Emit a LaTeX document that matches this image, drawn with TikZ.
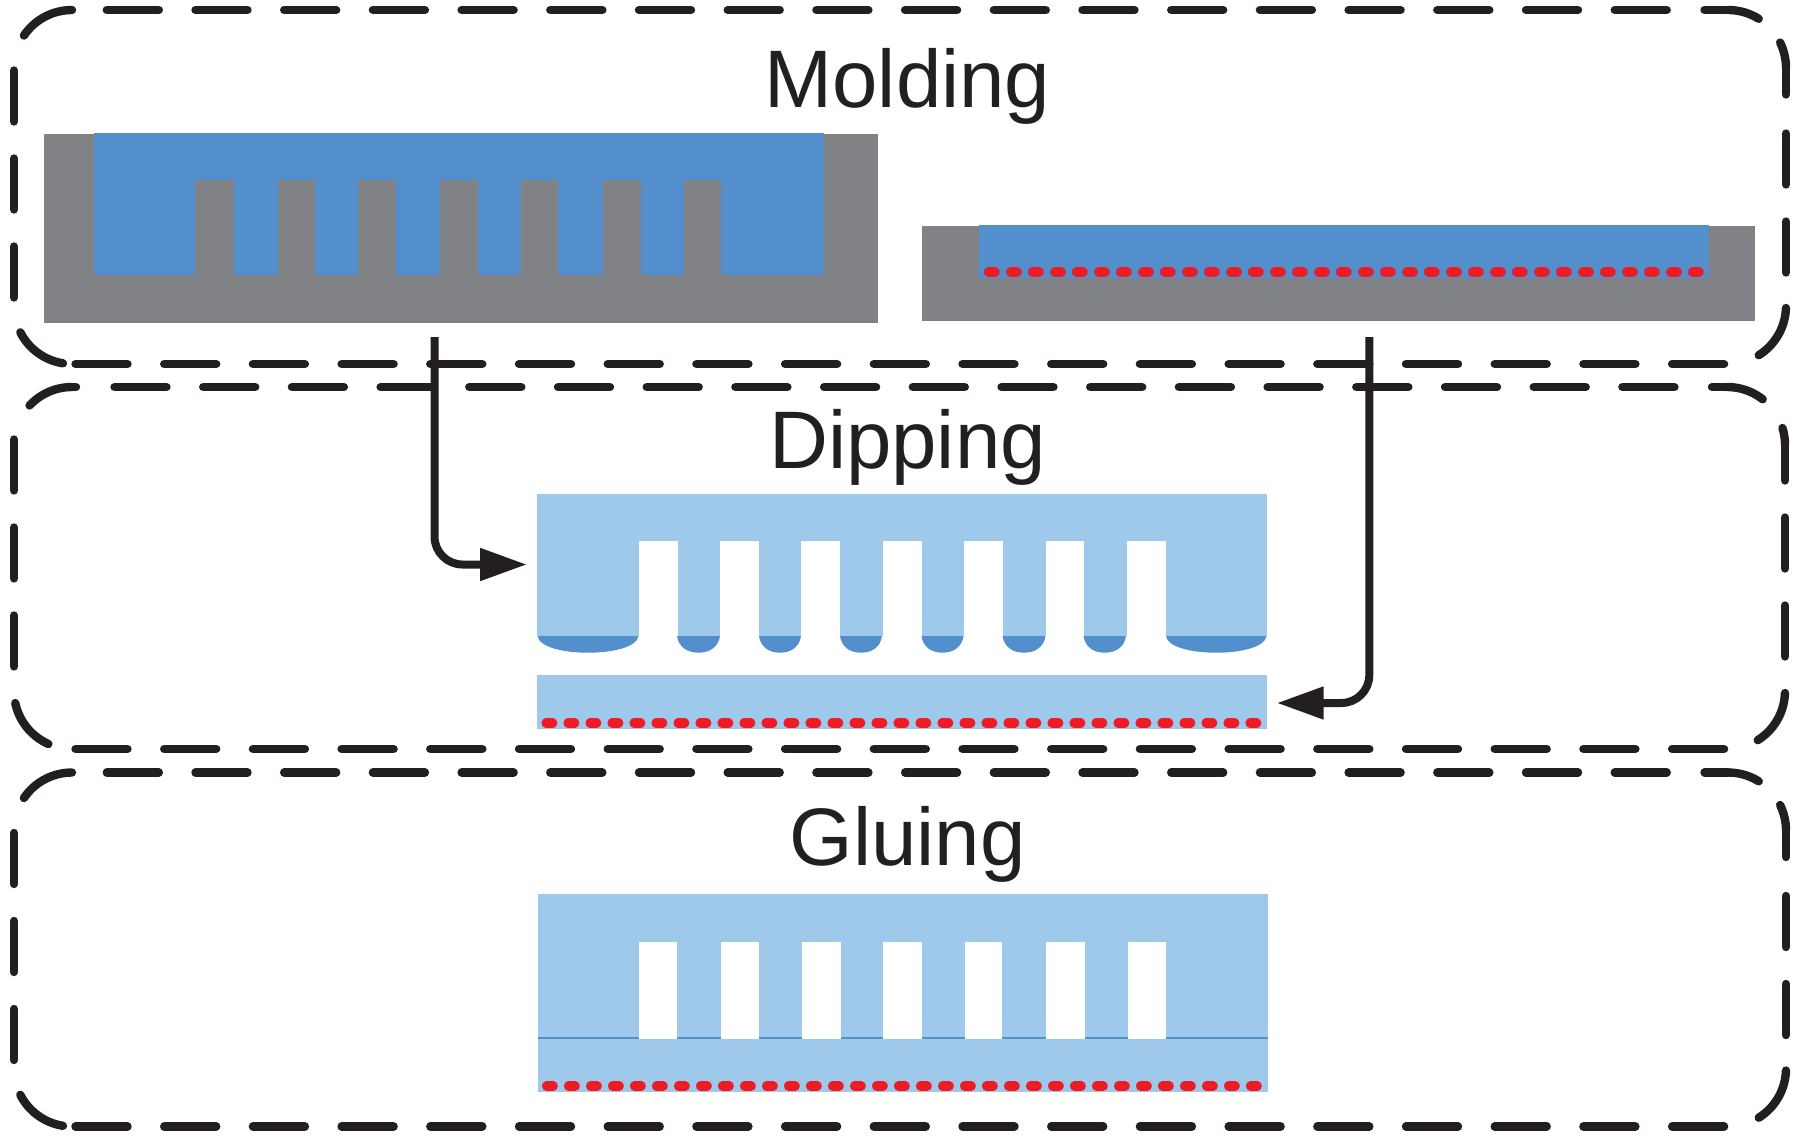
\documentclass[tikz,border=0pt]{standalone}
\usepackage{fontspec}
\setmainfont{Liberation Sans}
\usetikzlibrary{arrows.meta}
\definecolor{ink}{HTML}{231F20}
\definecolor{moldgray}{HTML}{808285}
\definecolor{pdms}{HTML}{538FCC}
\definecolor{cured}{HTML}{9FC9EB}
\definecolor{dotred}{HTML}{ED1C24}
\tikzset{
  frame/.style={draw=ink,line width=4.2pt,line cap=round},
  framedashH/.style={frame,dash pattern=on 26pt off 18.35pt},
  framedashV/.style={frame,dash pattern=on 25.5pt off 18.5pt},
  reddots/.style={draw=dotred,line width=4.6pt,line cap=round,dash pattern=on 3.4pt off 7.6pt},
  flow/.style={draw=ink,line width=4pt,rounded corners=14pt,-{Triangle[length=23.5pt,width=15.5pt,color=ink]}},
  title/.style={text=ink,font=\fontsize{40.8pt}{48pt}\selectfont,anchor=base,inner sep=0pt},
  adhesive/.style={draw=pdms,line width=1.2pt},
}
\newcommand{\crn}[4]{\draw[frame] plot[domain=#3:#4,samples=18] ({#1+58*cos(\x)},{#2-58*sin(\x)});}
\newcommand{\wideframe}{%
  \crn{72}{68}{146}{90}
  \draw[framedashH] (106.8,10) -- (1667.5,10);
  \draw[frame] (1704.5,10) -- (1728,10);
  \crn{1728}{68}{90}{58}
  \crn{1728}{68}{26}{0}
  \draw[frame] (1786,68) -- (1786,94.5);
  \draw[framedashV] (1786,133.5) -- (1786,272.5);
  \crn{1728}{306}{-2}{-58}
  \draw[framedashH] (75.5,364) -- (1724.5,364);
  \crn{72}{306}{207}{261}
  \draw[framedashV] (14,70.5) -- (14,298);
}
\begin{document}
\begin{tikzpicture}[x=0.5pt,y=-0.5pt]
\useasboundingbox (0,0) rectangle (1800,1136);

% frames
\wideframe
\begin{scope}[shift={(0,762.5)}]
  \wideframe
\end{scope}
\crn{72}{445}{137}{90}
\draw[frame] (72,387) -- (76,387);
\draw[framedashH] (114.5,387) -- (1675,387);
\draw[frame] (1712,387) -- (1727,387);
\crn{1727}{445}{90}{52}
\crn{1727}{445}{17}{0}
\draw[frame] (1785,445) -- (1785,480.5);
\draw[framedashV] (1785,517.5) -- (1785,658.5);
\crn{1727}{691}{-2}{-58}
\draw[framedashH] (75.5,749) -- (1724.5,749);
\crn{72}{691}{192}{246}
\draw[framedashV] (14,439.5) -- (14,668);

% titles
\node[title] (molding) at (907.5,107) {Molding};
\node[title] (dipping) at (907.5,468.5) {Dipping};
\node[title] (gluing) at (907.5,865) {Gluing};

% molding, structured mold
\fill[moldgray] (44,133.5) rectangle (878,323);
\fill[pdms] (93.6,132.5) rectangle (824,274.5);
\foreach \a/\b in {195/234,278/315,358/396,440/478,521/558,603/641,684/721}
  \fill[moldgray] (\a,179.5) rectangle (\b,275);

% molding, flat mold
\fill[moldgray] (922,226) rectangle (1755,321);
\fill[pdms] (979,225) rectangle (1709,278);
\draw[reddots] (988.5,272) -- (1702,272);

% dipping, stamp
\fill[cured] (537,494) rectangle (1267,636);
\foreach \a/\b in {639/677.5,720/758.5,801/839.5,882.5/921.5,963.5/1002.5,1045.5/1083.5,1126.5/1165.5}
  \fill[white] (\a,541.3) rectangle (\b,637);
\foreach \a/\b/\c in {537.5/638.5/25,677/720/11,759/801/11,840/882/11,921.5/963.5/11,1002.5/1045.5/11,1083.5/1126/11,1166/1266.5/25}
  \fill[pdms] (\a,636) .. controls ({\a+1.5},647) and ({(\a+\b)/2-\c},652.7) .. ({(\a+\b)/2},652.7)
     .. controls ({(\a+\b)/2+\c},652.7) and ({\b-1.5},647) .. (\b,636) -- cycle;

% dipping, plate
\fill[cured] (537,675) rectangle (1267,728.7);
\draw[reddots] (546,723) -- (1260,723);

% gluing
\fill[cured] (538,894) rectangle (1268,1092);
\draw[adhesive] (538,1038) -- (1268,1038);
\foreach \a/\b in {639/677,721/759,802/841,883/922,965/1002,1046/1085,1128/1166}
  \fill[white] (\a,942) rectangle (\b,1039.3);
\draw[reddots] (546.5,1086) -- (1260,1086);

% connectors
\coordinate (startA) at (434.5,337);
\coordinate (endA) at (527,564.5);
\coordinate (startB) at (1369.3,337);
\coordinate (endB) at (1276.7,703);
\draw[flow] (startA) |- (endA);
\draw[flow] (startB) |- (endB);
\end{tikzpicture}
\end{document}
